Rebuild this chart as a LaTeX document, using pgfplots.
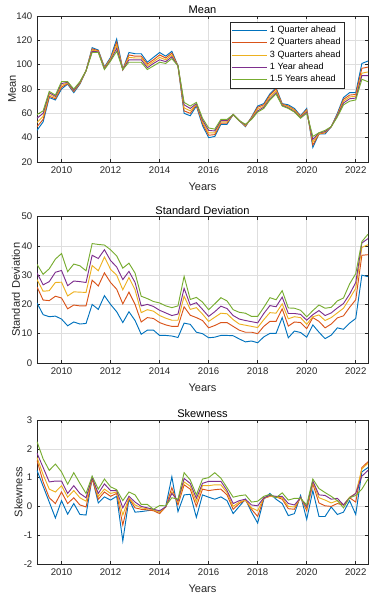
\documentclass[border=0pt]{standalone}
\usepackage{fontspec}
\setmainfont{Liberation Sans}
\usepackage{pgfplots}
\usepackage{pgfplotstable}
\pgfplotsset{compat=1.18}
\definecolor{c1}{rgb}{0,0.447,0.741}
\definecolor{c2}{rgb}{0.85,0.325,0.098}
\definecolor{c3}{rgb}{0.929,0.694,0.125}
\definecolor{c4}{rgb}{0.494,0.184,0.556}
\definecolor{c5}{rgb}{0.466,0.674,0.188}
\definecolor{axgray}{rgb}{0.15,0.15,0.15}

\pgfplotstableread{
t B R Y P G
2009 46 49 52.5 56 59
2009.25 53 55 57.5 60 62
2009.5 73 74 75.5 77 78
2009.75 71 72 73 74 75
2010 80 81.5 83 84.5 86
2010.25 84 84.5 85 85.5 86
2010.5 77 78 78.5 79 80
2010.75 84 84.5 85 85.5 86
2011 95 95 95 95 95
2011.25 114 113 112 111 110
2011.5 112 111.5 111 110.5 110
2011.75 98 97.5 97 96.5 96
2012 106 105 104.5 103.5 103
2012.25 121 118.5 116 113.5 111
2012.5 96 96 96 96 96
2012.75 110 108 106 104 102
2013 109 107 105.5 104 102
2013.25 109 107 105.5 104 102
2013.5 102 100.5 99 97.5 96
2013.75 106 104 102.5 101 99
2014 110 108 106 104 102
2014.25 107 105.5 104 102.5 101
2014.5 111 109.5 108 106.5 105
2014.75 99 99 99 99 99
2015 60 62 64.5 67 69
2015.25 58 60 62 64 66
2015.5 66 67 67.5 68 69
2015.75 50 51.5 53 54.5 56
2016 40 42 44 46 48
2016.25 41 42.5 44 45.5 47
2016.5 51 52 53 54 55
2016.75 51 52 53 54 55
2017 59 59 59 59 59
2017.25 54 54 54 54 54
2017.5 49 49.5 50 50.5 51
2017.75 57 56.5 56 55.5 55
2018 66 65 63.5 62 61
2018.25 68 67 66 65 64
2018.5 76 75 73.5 72 71
2018.75 81 80 78.5 77 76
2019 68 67.5 67 66.5 66
2019.25 67 66 65.5 64.5 64
2019.5 64 63 62.5 61.5 61
2019.75 58 57.5 57 56.5 56
2020 64 63 62 61 60
2020.25 32 34 36.5 38.5 41
2020.5 43 43 43.5 44 44
2020.75 43 44 44.5 45 46
2021 49 49 49 49 49
2021.25 60 59 58.5 58 57
2021.5 73 71.5 70 68.5 67
2021.75 77 75 73.5 72 70
2022 77 75.5 74 72.5 71
2022.25 101 97 93 91 88
2022.5 103 98 94 91 86
}\meantab

\pgfplotstableread{
t B R Y P G
2009 20.5 26 28.5 30.8 33.7
2009.25 16.5 21.5 24.5 26.7 30.3
2009.5 15.8 21.3 24.7 27.8 32.2
2009.75 16 22.8 27.5 31 35.5
2010 15 22.2 27.6 31.6 37.4
2010.25 12.7 18.5 22.9 26.4 31.2
2010.5 14 19.8 24.3 28 33.8
2010.75 13.3 19.5 24.2 27.8 33.2
2011 13.5 19.5 24.1 27.5 31.5
2011.25 20 28.3 33.3 36.8 40.8
2011.5 18.3 26.3 31.5 35.7 40.5
2011.75 23 30.8 36.2 38.7 40.3
2012 20 27.5 32 35 38.7
2012.25 17.5 25.2 30 32.8 36.6
2012.5 13.8 20.2 25 28.5 32.4
2012.75 17.5 24.2 29.2 31.3 34.1
2013 14.5 20 25 27.5 30.7
2013.25 9.8 14 17.2 19.5 22.8
2013.5 11.2 15.5 18.2 20 22
2013.75 11.2 15.2 17.7 19.3 21
2014 9.4 13.8 16.2 18 20.5
2014.25 9.4 13 15.3 17.1 19.5
2014.5 9.2 12.5 14.6 16.2 18.9
2014.75 8.7 12.5 14.6 16.7 19.5
2015 13.6 19.2 22.8 25.5 29.6
2015.25 13.2 16.3 18.3 19.8 21.7
2015.5 10.5 15.5 18.9 20.6 22.4
2015.75 10 14.5 16.7 18.3 20.8
2016 8.6 12 14.2 15.9 18.2
2016.25 8.8 12.8 15.6 17.5 20.2
2016.5 9.4 13.8 17 19.4 22.3
2016.75 9.4 13.8 16.8 18.6 21.2
2017 9.3 12.5 14.8 16.2 18.2
2017.25 8.2 11.2 13.3 15 17.3
2017.5 7.2 10.5 12.9 14.5 17
2017.75 7.5 10.5 12.5 14.1 15.9
2018 6.9 10 12.1 13.7 15.9
2018.25 8.9 12.5 14.8 16.9 19
2018.5 10.1 14.2 17.2 19.6 22.3
2018.75 10.1 14.2 17 19.2 21.6
2019 15.5 18.5 20.2 22.5 24.7
2019.25 8.6 12.6 15.1 16.9 18.8
2019.5 10.9 14 15.8 16.9 18.7
2019.75 10.4 13.8 15.5 16.6 18
2020 8.8 11.7 13.2 14.6 15.8
2020.25 13 15.5 15.8 16.5 17.9
2020.5 10.5 14.2 16.4 17.9 19.8
2020.75 8.3 12 14.5 16.2 18.7
2021 9.5 13.3 15.5 17.1 19
2021.25 12 15.4 17.1 18.8 21.2
2021.5 11.5 16.1 18.7 20.3 22.2
2021.75 13.6 19 22 23.5 27
2022 15.2 21.6 25.5 27.5 30.5
2022.25 30 36.8 39.5 41 41.5
2022.5 29.5 37 40.4 42.5 44
}\stdtab

\pgfplotstableread{
t B R Y P G
2009 1.25 1.6 1.7 1.85 2.25
2009.25 0.7 0.85 1.1 1.35 1.65
2009.5 0.15 0.3 0.6 0.85 1.25
2009.75 -0.4 0.1 0.5 0.88 1.47
2010 0.2 0.5 0.72 0.88 1.2
2010.25 -0.27 0.1 0.32 0.45 0.77
2010.5 0.1 0.3 0.55 0.72 1.17
2010.75 -0.28 0.05 0.3 0.45 0.8
2011 -0.3 -0.02 0.18 0.3 0.45
2011.25 1.0 0.95 1.0 1.0 1.05
2011.5 0.12 0.25 0.35 0.45 0.6
2011.75 0.33 0.5 0.6 0.78 0.95
2012 0.22 0.35 0.45 0.55 0.68
2012.25 0.35 0.45 0.5 0.55 0.58
2012.5 -1.2 -0.65 -0.3 -0.05 0.2
2012.75 0.25 0.28 0.3 0.35 0.5
2013 -0.2 -0.05 0.05 0.15 0.4
2013.25 -0.18 -0.1 -0.05 0.0 0.07
2013.5 -0.15 -0.12 -0.08 -0.05 0.07
2013.75 -0.12 -0.15 -0.12 -0.1 -0.1
2014 -0.2 -0.25 -0.2 -0.15 0.03
2014.25 0.0 -0.02 -0.02 -0.02 0.02
2014.5 1.03 0.65 0.5 0.45 0.3
2014.75 -0.18 0.05 0.15 0.2 0.25
2015 0.4 0.75 0.85 0.97 1.17
2015.25 0.42 0.6 0.7 0.8 0.92
2015.5 -0.38 0.0 0.15 0.28 0.4
2015.75 0.4 0.6 0.72 0.8 0.95
2016 0.32 0.55 0.72 0.87 1.0
2016.25 0.25 0.58 0.75 0.87 1.17
2016.5 0.33 0.6 0.75 0.87 0.98
2016.75 0.2 0.4 0.48 0.55 0.65
2017 -0.25 -0.1 0.0 0.1 0.32
2017.25 0.0 0.1 0.15 0.2 0.37
2017.5 0.25 0.22 0.22 0.25 0.4
2017.75 -0.2 -0.1 -0.05 0.05 0.15
2018 -0.58 -0.35 -0.15 0.02 0.18
2018.25 0.25 0.28 0.3 0.3 0.35
2018.5 0.45 0.35 0.35 0.38 0.42
2018.75 0.25 0.33 0.33 0.35 0.3
2019 0.1 0.25 0.3 0.35 0.47
2019.25 -0.32 -0.08 0.0 0.1 0.22
2019.5 -0.25 -0.1 -0.02 0.05 0.28
2019.75 0.38 0.32 0.3 0.3 0.28
2020 -0.45 -0.15 -0.08 -0.02 0.05
2020.25 0.55 0.78 0.85 0.88 0.95
2020.5 -0.35 0.12 0.3 0.4 0.62
2020.75 -0.35 0.02 0.22 0.38 0.48
2021 -0.02 0.0 0.12 0.25 0.35
2021.25 -0.28 0.1 0.2 0.28 0.2
2021.5 -0.2 0.05 0.05 0.05 -0.05
2021.75 0.2 0.3 0.32 0.3 0.3
2022 -0.28 0.15 0.45 0.45 0.38
2022.25 1.2 1.35 1.3 1.05 0.6
2022.5 1.35 1.55 1.5 1.25 0.95
}\skewtab

\pgfplotsset{
  mstyle/.style={
    scale only axis,
    width=248.25pt,
    xmin=2009, xmax=2022.5,
    xtick={2010,2012,...,2022},
    x tick label style={/pgf/number format/1000 sep={}},
    /pgf/number format/assume math mode=true,
    tick label style={font=\fontsize{7.2}{8}\selectfont, text=axgray},
    label style={font=\fontsize{8.3}{9}\selectfont, text=axgray},
    title style={font=\fontsize{8.3}{9}\selectfont, inner sep=0pt, yshift=-4.5pt},
    grid=major,
    major grid style={black!13, line width=0.4pt},
    axis line style={axgray, line width=0.4pt},
    tick style={axgray, line width=0.4pt},
    tick align=inside,
    major tick length=2.5pt,
    xlabel={Years},
    cycle list={{c1},{c2},{c3},{c4},{c5}},
    every axis plot/.append style={line width=0.7pt, mark=none},
  }
}

\begin{document}
\begin{tikzpicture}
\path[use as bounding box] (-27.75pt,12pt) rectangle (260.25pt,-438pt);

\begin{axis}[mstyle, at={(0pt,0pt)}, anchor=north west, height=109.5pt,
  ymin=20, ymax=140, ytick={20,40,...,140},
  title={Mean}, ylabel={Mean},
  ylabel style={at={(axis description cs:-0.0755,0.5)}, anchor=center},
  legend style={at={(0.93,0.96)}, anchor=north east,
    font=\fontsize{6.8}{7.5}\selectfont, draw=axgray, line width=0.4pt,
    inner sep=1pt, row sep=-1.2pt, cells={anchor=west}},
  legend image code/.code={\draw[#1] (0pt,0pt) -- (26pt,0pt);},
]
\addplot table[x=t,y=B] {\meantab};
\addplot table[x=t,y=R] {\meantab};
\addplot table[x=t,y=Y] {\meantab};
\addplot table[x=t,y=P] {\meantab};
\addplot table[x=t,y=G] {\meantab};
\legend{1 Quarter ahead, 2 Quarters ahead, 3 Quarters ahead, 1 Year ahead, 1.5 Years ahead}
\end{axis}

\begin{axis}[mstyle, at={(0pt,-150.5pt)}, anchor=north west, height=109.7pt,
  ymin=0, ymax=50, ytick={0,10,...,50},
  title={Standard Deviation}, ylabel={Standard Deviation},
  ylabel style={at={(axis description cs:-0.064,0.5)}, anchor=center},
]
\addplot table[x=t,y=B] {\stdtab};
\addplot table[x=t,y=R] {\stdtab};
\addplot table[x=t,y=Y] {\stdtab};
\addplot table[x=t,y=P] {\stdtab};
\addplot table[x=t,y=G] {\stdtab};
\end{axis}

\begin{axis}[mstyle, at={(0pt,-303pt)}, anchor=north west, height=108pt,
  ymin=-2, ymax=3, ytick={-2,-1,...,3},
  title={Skewness}, ylabel={Skewness},
  ylabel style={at={(axis description cs:-0.056,0.5)}, anchor=center},
]
\addplot table[x=t,y=B] {\skewtab};
\addplot table[x=t,y=R] {\skewtab};
\addplot table[x=t,y=Y] {\skewtab};
\addplot table[x=t,y=P] {\skewtab};
\addplot table[x=t,y=G] {\skewtab};
\end{axis}
\end{tikzpicture}
\end{document}
